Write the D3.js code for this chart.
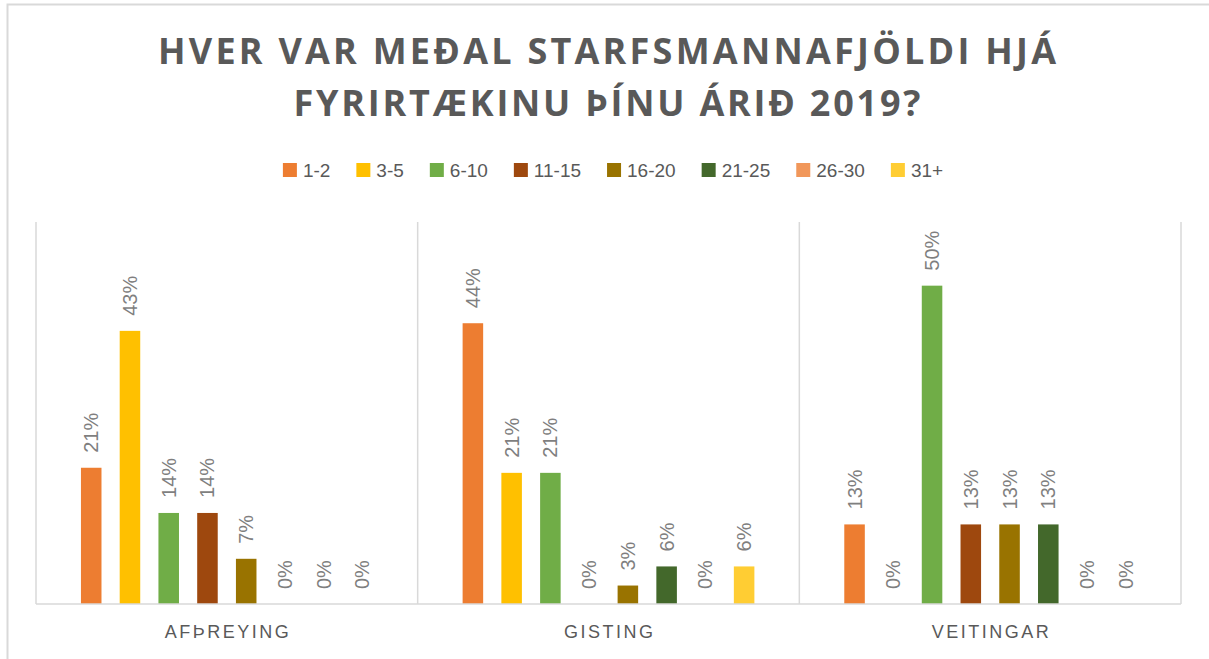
<!DOCTYPE html>
<html>
<head>
<meta charset="utf-8">
<script src="https://cdn.jsdelivr.net/npm/d3@7"></script>
<style>
  body { margin: 0; background: #fff; }
  svg { display: block; }
</style>
</head>
<body>
<div id="chart"></div>
<script>
// chart data
var titleLines = ["HVER VAR MEÐAL STARFSMANNAFJÖLDI HJÁ", "FYRIRTÆKINU ÞÍNU ÁRIÐ 2019?"];
var categories = ["AFÞREYING", "GISTING", "VEITINGAR"];
var seriesNames = ["1-2", "3-5", "6-10", "11-15", "16-20", "21-25", "26-30", "31+"];
var seriesColors = ["#ED7D31", "#FFC000", "#70AD47", "#9E480E", "#997300", "#43682B", "#F1975A", "#FFCD33"];

// one array per category, one value per size bracket
var afthreying = [0.214, 0.429, 0.143, 0.143, 0.071, 0, 0, 0];
var gisting    = [0.441, 0.206, 0.206, 0, 0.029, 0.059, 0, 0.059];
var veitingar  = [0.125, 0, 0.5, 0.125, 0.125, 0.125, 0, 0];
var values = [afthreying, gisting, veitingar];

var yMax = 0.6;

var W = 1209, H = 659;
var plot = {left: 36, right: 1181, top: 222, bottom: 604};

var svg = d3.select("#chart").append("svg")
  .attr("width", W)
  .attr("height", H);

// outer chart frame (runs off the right / bottom of the picture)
svg.append("rect")
  .attr("x", 7.5).attr("y", 4.5)
  .attr("width", 1240).attr("height", 700)
  .attr("fill", "none")
  .attr("stroke", "#d9d9d9")
  .attr("stroke-width", 2);

// title
svg.append("g").selectAll("text")
  .data(titleLines)
  .enter().append("text")
  .attr("x", 607)
  .attr("y", (d, i) => 64 + i * 52)
  .attr("text-anchor", "middle")
  .attr("font-family", "'Open Sans', 'DejaVu Sans', sans-serif")
  .attr("font-weight", "bold")
  .attr("font-size", 36)
  .attr("fill", "#595959")
  .attr("textLength", (d, i) => i == 0 ? 898 : 627)
  .attr("lengthAdjust", "spacing")
  .text(d => d);

// legend, laid out left to right then centred
var legend = svg.append("g");
var legendFont = 19;
var cursor = 0;
seriesNames.forEach((name, i) => {
  var item = legend.append("g").attr("transform", "translate(" + cursor + ",0)");
  item.append("rect")
    .attr("x", 0).attr("y", 163)
    .attr("width", 14).attr("height", 14)
    .attr("fill", seriesColors[i]);
  var t = item.append("text")
    .attr("x", 20).attr("y", 177)
    .attr("font-family", "'Liberation Sans', Arial, sans-serif")
    .attr("font-size", legendFont)
    .attr("fill", "#595959")
    .text(name);
  cursor += 20 + t.node().getComputedTextLength() + 26;
});
var legendW = cursor - 26;
legend.attr("transform", "translate(" + (613 - legendW / 2) + ",0)");

// scales
var x0 = d3.scaleBand()
  .domain(categories)
  .range([plot.left, plot.right])
  .padding(0);

var x1 = d3.scaleBand()
  .domain(seriesNames)
  .range([0, x0.bandwidth()])
  .paddingInner(0.47)
  .paddingOuter(1.16);

var y = d3.scaleLinear()
  .domain([0, yMax])
  .range([plot.bottom, plot.top]);

// category separators (left edge of every band + right edge)
var seps = categories.map(c => x0(c)).concat([plot.right]);
svg.append("g").selectAll("line")
  .data(seps)
  .enter().append("line")
  .attr("x1", d => d).attr("x2", d => d)
  .attr("y1", plot.top).attr("y2", plot.bottom)
  .attr("stroke", "#d9d9d9")
  .attr("stroke-width", 1.5);

// bars + labels
var groups = svg.append("g").selectAll("g")
  .data(categories)
  .enter().append("g")
  .attr("transform", d => "translate(" + x0(d) + ",0)");

groups.selectAll("rect")
  .data((d, ci) => values[ci].map((v, si) => ({s: seriesNames[si], v: v, c: seriesColors[si]})))
  .enter().append("rect")
  .attr("x", d => x1(d.s))
  .attr("y", d => y(d.v))
  .attr("width", x1.bandwidth())
  .attr("height", d => y(0) - y(d.v))
  .attr("fill", d => d.c);

groups.selectAll("text.val")
  .data((d, ci) => values[ci].map((v, si) => ({s: seriesNames[si], v: v})))
  .enter().append("text")
  .attr("class", "val")
  .attr("transform", d => "translate(" + (x1(d.s) + x1.bandwidth() / 2) + "," + (y(d.v) - 15) + ") rotate(-90)")
  .attr("dy", "0.35em")
  .attr("font-family", "'Liberation Sans', Arial, sans-serif")
  .attr("font-size", 20)
  .attr("fill", "#7f7f7f")
  .text(d => Math.round(d.v * 100) + "%");

// baseline
svg.append("line")
  .attr("x1", plot.left).attr("x2", plot.right)
  .attr("y1", plot.bottom).attr("y2", plot.bottom)
  .attr("stroke", "#d9d9d9")
  .attr("stroke-width", 1.5);

// category axis labels
var xAxis = svg.append("g")
  .attr("transform", "translate(0," + plot.bottom + ")")
  .call(d3.axisBottom(x0).tickSize(0).tickPadding(0));
xAxis.select(".domain").remove();
xAxis.selectAll("text")
  .attr("y", 34)
  .attr("dy", 0)
  .attr("dx", "1.25px")
  .attr("font-family", "'Liberation Sans', Arial, sans-serif")
  .attr("font-size", 18)
  .attr("letter-spacing", "2.5px")
  .attr("fill", "#595959");
</script>
</body>
</html>
